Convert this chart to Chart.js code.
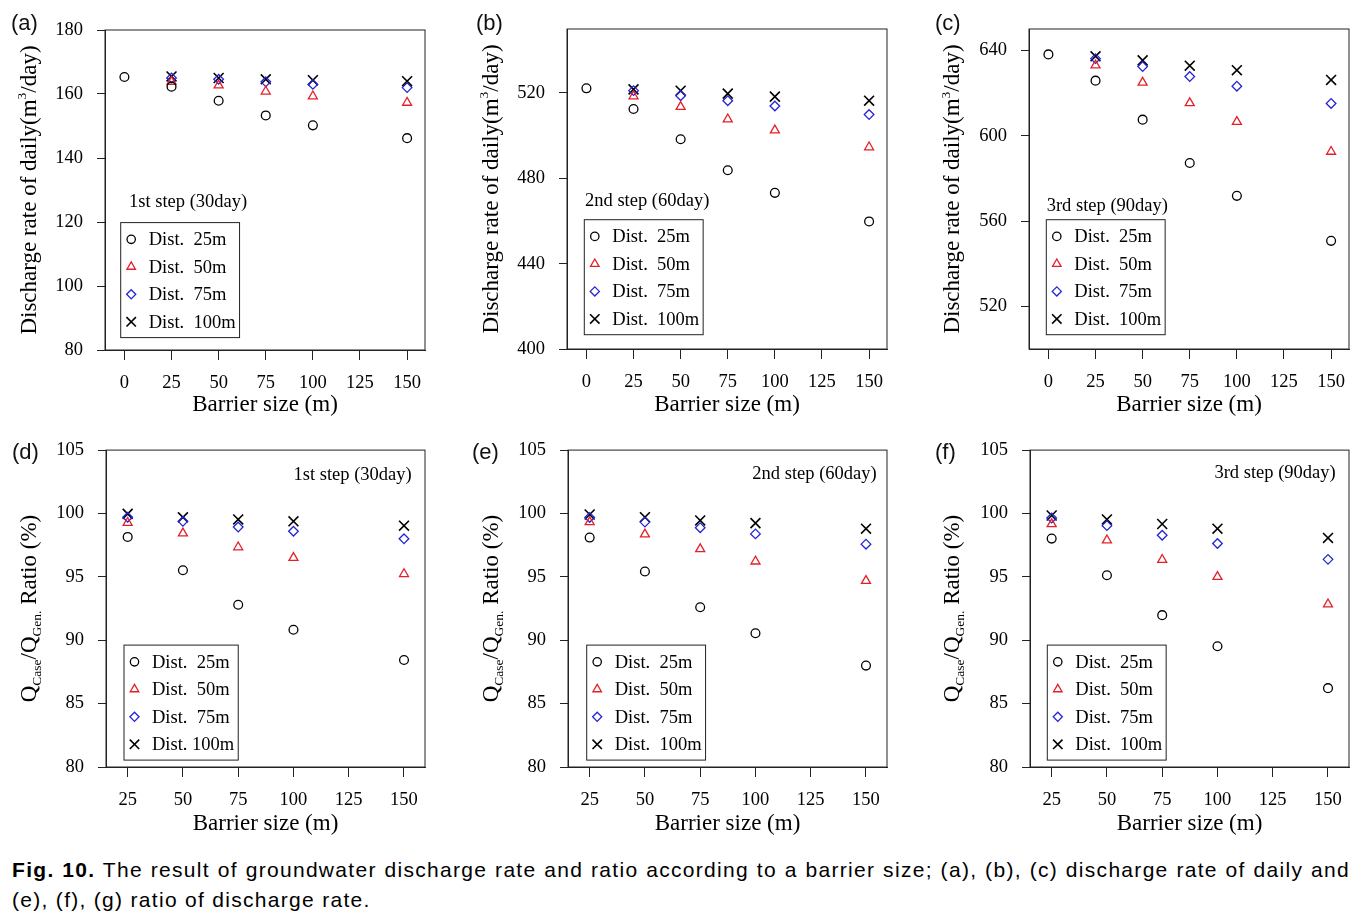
<!DOCTYPE html>
<html>
<head>
<meta charset="utf-8">
<script src="https://cdn.jsdelivr.net/npm/chart.js@4.4.1/dist/chart.umd.min.js"></script>
<style>
  body { margin: 0; background: #fff; }
  #page { position: relative; width: 1369px; height: 918px; overflow: hidden; }
  canvas { position: absolute; }
  .tag { position: absolute; font-family: "Liberation Sans", Arial, sans-serif; font-size: 22px; line-height: 22px; color: #111; }
  .cap { position: absolute; left: 12px; width: 1338px; font-family: "Liberation Sans", Arial, sans-serif;
         font-size: 21px; letter-spacing: 1.3px; line-height: 30px; color: #000; white-space: nowrap; }
  #cap1 { top: 855px; text-align: justify; text-align-last: justify; }
  #cap2 { top: 885px; }
</style>
</head>
<body>
<div id="page">
  <canvas id="ca" width="440" height="420" style="left:0;top:0"></canvas>
  <canvas id="cb" width="449" height="420" style="left:460px;top:0"></canvas>
  <canvas id="cc" width="449" height="420" style="left:920px;top:0"></canvas>
  <canvas id="cd" width="440" height="420" style="left:0;top:425px"></canvas>
  <canvas id="ce" width="449" height="420" style="left:460px;top:425px"></canvas>
  <canvas id="cf" width="449" height="420" style="left:920px;top:425px"></canvas>

  <div class="tag" style="left:11px;top:12px">(a)</div>
  <div class="tag" style="left:476px;top:12px">(b)</div>
  <div class="tag" style="left:935px;top:12px">(c)</div>
  <div class="tag" style="left:12px;top:441px">(d)</div>
  <div class="tag" style="left:472px;top:441px">(e)</div>
  <div class="tag" style="left:935px;top:441px">(f)</div>

  <div class="cap" id="cap1"><b>Fig. 10.</b> The result of groundwater discharge rate and ratio according to a barrier size; (a), (b), (c) discharge rate of daily and</div>
  <div class="cap" id="cap2">(e), (f), (g) ratio of discharge rate.</div>
</div>

<script>
  // barrier sizes (m)
  const barrierTop = [0, 25, 50, 75, 100, 150];   // Dist. 25m series in (a)-(c) also has the 0 m case
  const barrierSizes = [25, 50, 75, 100, 150];

  // tick labels
  const xTicksTop = [0, 25, 50, 75, 100, 125, 150];
  const xTicksRatio = [25, 50, 75, 100, 125, 150];
  const yTicksA = [80, 100, 120, 140, 160, 180];
  const yTicksB = [400, 440, 480, 520];
  const yTicksC = [520, 560, 600, 640];
  const yTicksRatio = [80, 85, 90, 95, 100, 105];

  const seriesLabels = ['Dist.  25m', 'Dist.  50m', 'Dist.  75m', 'Dist.  100m'];
  const seriesLabelsD = ['Dist.  25m', 'Dist.  50m', 'Dist.  75m', 'Dist. 100m'];
  const stepLabels = ['1st step (30day)', '2nd step (60day)', '3rd step (90day)'];

  // discharge rate of daily (m3/day)
  const q30_d25 = [165.3, 162.3, 157.9, 153.3, 150.2, 146.2];
  const q30_d50 = [163.8, 162.7, 160.8, 159.3, 157.3];
  const q30_d75 = [165.0, 164.6, 163.8, 163.0, 162.0];
  const q30_d100 = [165.5, 165.0, 164.6, 164.3, 164.0];

  const q60_d25 = [522.2, 512.5, 498.3, 483.8, 473.2, 459.8];
  const q60_d50 = [518.5, 513.5, 507.7, 502.5, 494.6];
  const q60_d75 = [521.1, 518.7, 516.4, 513.9, 509.9];
  const q60_d100 = [521.7, 521.1, 519.7, 518.3, 516.4];

  const q90_d25 = [638.1, 625.8, 607.5, 587.2, 571.8, 550.7];
  const q90_d50 = [633.0, 624.9, 615.3, 606.5, 592.5];
  const q90_d75 = [636.1, 632.4, 627.7, 623.2, 615.1];
  const q90_d100 = [637.2, 635.3, 632.8, 630.7, 626.1];

  // Q_Case / Q_Gen. ratio (%)
  const r30_d25 = [98.15, 95.52, 92.8, 90.83, 88.44];
  const r30_d50 = [99.27, 98.44, 97.34, 96.5, 95.23];
  const r30_d75 = [99.7, 99.38, 98.93, 98.6, 98.0];
  const r30_d100 = [99.97, 99.7, 99.53, 99.38, 99.04];

  const r60_d25 = [98.1, 95.42, 92.6, 90.55, 88.0];
  const r60_d50 = [99.32, 98.36, 97.19, 96.22, 94.69];
  const r60_d75 = [99.69, 99.32, 98.88, 98.39, 97.58];
  const r60_d100 = [99.92, 99.71, 99.45, 99.24, 98.8];

  const r90_d25 = [98.02, 95.13, 91.98, 89.53, 86.22];
  const r90_d50 = [99.17, 97.89, 96.35, 95.0, 92.84];
  const r90_d75 = [99.64, 99.04, 98.28, 97.63, 96.38];
  const r90_d100 = [99.84, 99.53, 99.17, 98.8, 98.07];

  const SERIF = '"Liberation Serif", "Times New Roman", serif';
  const INK = '#000';
  const FRAME = '#222';

  const markers = [
    { style: 'circle', color: '#000', radius: 4.4, width: 1.3 },
    { style: 'triangle', color: '#e3202a', radius: 5.2, width: 1.3 },
    { style: 'rectRot', color: '#2424d6', radius: 4.8, width: 1.3 },
    { style: 'crossRot', color: '#000', radius: 7, width: 1.6 }
  ];

  const rateTitle = [
    { text: 'Discharge rate of daily(m', size: 23 },
    { text: '3', size: 13.5, dy: -9.5 },
    { text: '/day)', size: 23 }
  ];
  const ratioTitle = [
    { text: 'Q', size: 23 },
    { text: 'Case', size: 13.5, dy: 5 },
    { text: '/Q', size: 23 },
    { text: 'Gen.', size: 13.5, dy: 5 },
    { text: ' Ratio (%)', size: 23 }
  ];

  // frame round the plot area
  const framePlugin = {
    id: 'frame',
    afterDraw(chart) {
      const { ctx, chartArea: a } = chart;
      ctx.save();
      ctx.strokeStyle = FRAME;
      ctx.lineWidth = 1;
      ctx.strokeRect(a.left, a.top, a.right - a.left, a.bottom - a.top);
      ctx.restore();
    }
  };

  // rotated y title with sub/superscripts
  const yTitlePlugin = {
    id: 'yTitle',
    afterDraw(chart, args, opts) {
      const { ctx, chartArea: a } = chart;
      ctx.save();
      let total = 0;
      opts.parts.forEach(p => {
        ctx.font = p.size + 'px ' + SERIF;
        total += ctx.measureText(p.text).width;
      });
      ctx.translate(opts.x, (a.top + a.bottom) / 2);
      ctx.rotate(-Math.PI / 2);
      ctx.fillStyle = INK;
      ctx.textBaseline = 'alphabetic';
      ctx.textAlign = 'left';
      let x = -total / 2;
      opts.parts.forEach(p => {
        ctx.font = p.size + 'px ' + SERIF;
        ctx.fillText(p.text, x, 7.5 + (p.dy || 0));
        x += ctx.measureText(p.text).width;
      });
      ctx.restore();
    }
  };

  // boxed legend and step label inside the plot
  const boxLegendPlugin = {
    id: 'boxLegend',
    afterDraw(chart, args, opts) {
      const { ctx, chartArea: a } = chart;
      const bx = a.left + opts.box[0];
      const by = a.top + opts.box[1];
      ctx.save();
      ctx.font = '18.5px ' + SERIF;
      let maxW = 0;
      chart.data.datasets.forEach(ds => { maxW = Math.max(maxW, ctx.measureText(ds.label).width); });
      ctx.strokeStyle = FRAME;
      ctx.lineWidth = 1;
      ctx.strokeRect(bx, by, 28 + maxW + 4, 115);

      chart.data.datasets.forEach((ds, i) => {
        const y = by + 16.7 + i * 27.5;
        ctx.strokeStyle = ds.borderColor;
        ctx.fillStyle = 'rgba(0,0,0,0)';
        ctx.lineWidth = ds.borderWidth;
        Chart.helpers.drawPoint(ctx, {
          pointStyle: ds.pointStyle, radius: ds.pointRadius * 0.95, rotation: 0, borderWidth: ds.borderWidth
        }, bx + 10.5, y);
        ctx.fillStyle = INK;
        ctx.textBaseline = 'middle';
        ctx.textAlign = 'left';
        ctx.fillText(ds.label, bx + 28, y + 1);
      });

      const s = opts.step;
      ctx.font = '18.5px ' + SERIF;
      ctx.fillStyle = INK;
      ctx.textBaseline = 'middle';
      if (s.align === 'right') {
        ctx.textAlign = 'right';
        ctx.fillText(s.text, a.right - s.x, a.top + s.y);
      } else {
        ctx.textAlign = 'left';
        ctx.fillText(s.text, a.left + s.x, a.top + s.y);
      }
      ctx.restore();
    }
  };

  function makeDatasets(labels, xsFirst, xsRest, series) {
    return series.map((ys, i) => {
      const xs = i === 0 ? xsFirst : xsRest;
      const m = markers[i];
      return {
        label: labels[i],
        data: xs.map((x, k) => ({ x: x, y: ys[k] })),
        pointStyle: m.style,
        pointRadius: m.radius,
        borderColor: m.color,
        backgroundColor: 'rgba(0,0,0,0)',
        borderWidth: m.width,
        showLine: false
      };
    });
  }

  function drawPanel(p) {
    const canvas = document.getElementById(p.id);
    const W = canvas.width, H = canvas.height;
    const [aL, aT, aR, aB] = p.area;
    new Chart(canvas.getContext('2d'), {
      type: 'scatter',
      data: { datasets: p.datasets },
      options: {
        responsive: false,
        animation: false,
        events: [],
        layout: { padding: { top: aT, right: W - aR, left: 0, bottom: 0 } },
        plugins: {
          legend: { display: false },
          tooltip: { enabled: false },
          yTitle: { parts: p.yTitle, x: p.yTitleX },
          boxLegend: { box: p.legendBox, step: p.step }
        },
        scales: {
          x: {
            type: 'linear',
            min: p.xMin,
            max: p.xMax,
            afterBuildTicks: s => { s.ticks = p.xTicks.map(v => ({ value: v })); },
            afterFit: s => { s.height = H - aB; },
            grid: { drawOnChartArea: false, drawTicks: true, tickLength: 10, tickColor: FRAME, tickWidth: 1 },
            border: { display: true, color: FRAME, width: 1 },
            ticks: { color: INK, font: { family: SERIF, size: 18.5 }, padding: 12, autoSkip: false, maxRotation: 0 },
            title: {
              display: true, text: 'Barrier size (m)', color: INK,
              font: { family: SERIF, size: 23 }, padding: { top: 0, bottom: p.xTitlePad }
            }
          },
          y: {
            type: 'linear',
            min: p.yMin,
            max: p.yMax,
            afterBuildTicks: s => { s.ticks = p.yTicks.map(v => ({ value: v })); },
            afterFit: s => { s.width = aL; },
            grid: { drawOnChartArea: false, drawTicks: true, tickLength: 8, tickColor: FRAME, tickWidth: 1 },
            border: { display: true, color: FRAME, width: 1 },
            ticks: { color: INK, font: { family: SERIF, size: 18.5 }, padding: 14 }
          }
        }
      },
      plugins: [framePlugin, yTitlePlugin, boxLegendPlugin]
    });
  }

  const panels = [
    {
      id: 'ca', area: [105, 30, 425, 350], xMin: -10.3, xMax: 159.5, xTicks: xTicksTop,
      yMin: 80, yMax: 180, yTicks: yTicksA, yTitle: rateTitle, yTitleX: 28, xTitlePad: 1,
      legendBox: [15.7, 192.6], step: { text: stepLabels[0], x: 24, y: 172, align: 'left' },
      datasets: makeDatasets(seriesLabels, barrierTop, barrierSizes, [q30_d25, q30_d50, q30_d75, q30_d100])
    },
    {
      id: 'cb', area: [107, 29, 427, 349], xMin: -10.3, xMax: 159.5, xTicks: xTicksTop,
      yMin: 400, yMax: 550, yTicks: yTicksB, yTitle: rateTitle, yTitleX: 30, xTitlePad: 1,
      legendBox: [17.3, 190.7], step: { text: stepLabels[1], x: 18, y: 172, align: 'left' },
      datasets: makeDatasets(seriesLabels, barrierTop, barrierSizes, [q60_d25, q60_d50, q60_d75, q60_d100])
    },
    {
      id: 'cc', area: [109, 29, 429, 349], xMin: -10.3, xMax: 159.5, xTicks: xTicksTop,
      yMin: 500, yMax: 650, yTicks: yTicksC, yTitle: rateTitle, yTitleX: 31.7, xTitlePad: 1,
      legendBox: [17.3, 190.7], step: { text: stepLabels[2], x: 17.7, y: 177, align: 'left' },
      datasets: makeDatasets(seriesLabels, barrierTop, barrierSizes, [q90_d25, q90_d50, q90_d75, q90_d100])
    },
    {
      id: 'cd', area: [106, 22, 425, 342], xMin: 15.2, xMax: 159.5, xTicks: xTicksRatio,
      yMin: 80, yMax: 105, yTicks: yTicksRatio, yTitle: ratioTitle, yTitleX: 28, xTitlePad: 7.5,
      legendBox: [18, 195], step: { text: stepLabels[0], x: 13.3, y: 25.4, align: 'right' },
      datasets: makeDatasets(seriesLabelsD, barrierSizes, barrierSizes, [r30_d25, r30_d50, r30_d75, r30_d100])
    },
    {
      id: 'ce', area: [108, 22, 427, 342], xMin: 15.2, xMax: 159.5, xTicks: xTicksRatio,
      yMin: 80, yMax: 105, yTicks: yTicksRatio, yTitle: ratioTitle, yTitleX: 30, xTitlePad: 7.5,
      legendBox: [18.7, 195], step: { text: stepLabels[1], x: 10.3, y: 24.4, align: 'right' },
      datasets: makeDatasets(seriesLabels, barrierSizes, barrierSizes, [r60_d25, r60_d50, r60_d75, r60_d100])
    },
    {
      id: 'cf', area: [110, 22, 429, 342], xMin: 15.2, xMax: 159.5, xTicks: xTicksRatio,
      yMin: 80, yMax: 105, yTicks: yTicksRatio, yTitle: ratioTitle, yTitleX: 31.7, xTitlePad: 7.5,
      legendBox: [17.3, 195], step: { text: stepLabels[2], x: 13.3, y: 23.4, align: 'right' },
      datasets: makeDatasets(seriesLabels, barrierSizes, barrierSizes, [r90_d25, r90_d50, r90_d75, r90_d100])
    }
  ];

  panels.forEach(drawPanel);
</script>
</body>
</html>
